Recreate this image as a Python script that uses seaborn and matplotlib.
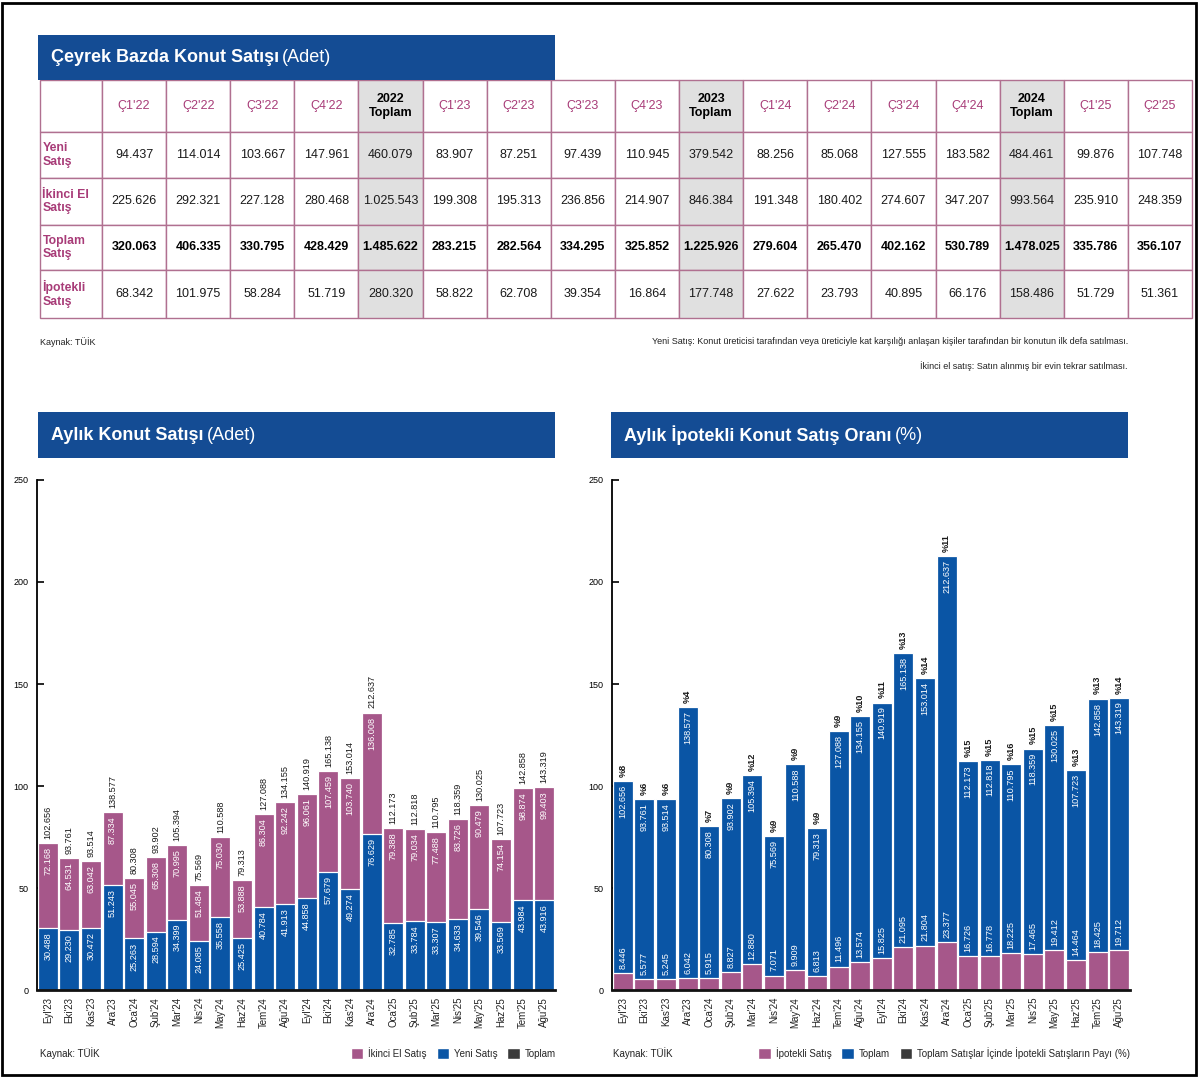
import matplotlib
matplotlib.use("Agg")
import matplotlib.pyplot as plt
import seaborn as sns
import numpy as np
import pandas as pd
from matplotlib.patches import Rectangle, Patch

# ---------------- data ----------------
quarter_labels = ["Ç1'22", "Ç2'22", "Ç3'22", "Ç4'22", "2022\nToplam",
                  "Ç1'23", "Ç2'23", "Ç3'23", "Ç4'23", "2023\nToplam",
                  "Ç1'24", "Ç2'24", "Ç3'24", "Ç4'24", "2024\nToplam",
                  "Ç1'25", "Ç2'25"]
row_labels = ["Yeni\nSatış", "İkinci El\nSatış", "Toplam\nSatış", "İpotekli\nSatış"]
yeni_q = [94437, 114014, 103667, 147961, 460079, 83907, 87251, 97439, 110945, 379542,
          88256, 85068, 127555, 183582, 484461, 99876, 107748]
ikinci_q = [225626, 292321, 227128, 280468, 1025543, 199308, 195313, 236856, 214907, 846384,
            191348, 180402, 274607, 347207, 993564, 235910, 248359]
toplam_q = [320063, 406335, 330795, 428429, 1485622, 283215, 282564, 334295, 325852, 1225926,
            279604, 265470, 402162, 530789, 1478025, 335786, 356107]
ipotekli_q = [68342, 101975, 58284, 51719, 280320, 58822, 62708, 39354, 16864, 177748,
              27622, 23793, 40895, 66176, 158486, 51729, 51361]

months = ["Eyl'23", "Eki'23", "Kas'23", "Ara'23", "Oca'24", "Şub'24", "Mar'24", "Nis'24",
          "May'24", "Haz'24", "Tem'24", "Ağu'24", "Eyl'24", "Eki'24", "Kas'24", "Ara'24",
          "Oca'25", "Şub'25", "Mar'25", "Nis'25", "May'25", "Haz'25", "Tem'25", "Ağu'25"]
yeni_m = [30488, 29230, 30472, 51243, 25263, 28594, 34399, 24085, 35558, 25425, 40784, 41913,
          44858, 57679, 49274, 76629, 32785, 33784, 33307, 34633, 39546, 33569, 43984, 43916]
ikinci_m = [72168, 64531, 63042, 87334, 55045, 65308, 70995, 51484, 75030, 53888, 86304, 92242,
            96061, 107459, 103740, 136008, 79388, 79034, 77488, 83726, 90479, 74154, 98874, 99403]
toplam_m = [102656, 93761, 93514, 138577, 80308, 93902, 105394, 75569, 110588, 79313, 127088, 134155,
            140919, 165138, 153014, 212637, 112173, 112818, 110795, 118359, 130025, 107723, 142858, 143319]
ipotekli_m = [8446, 5577, 5245, 6042, 5915, 8827, 12880, 7071, 9909, 6813, 11496, 13574,
              15825, 21095, 21804, 23377, 16726, 16778, 18225, 17465, 19412, 14464, 18425, 19712]
pay_m = [8, 6, 6, 4, 7, 9, 12, 9, 9, 9, 9, 10, 11, 13, 14, 11, 15, 15, 16, 15, 15, 13, 13, 14]

# ---------------- style ----------------
sns.set_theme(style="white")
plt.rcParams['font.family'] = ['Liberation Sans', 'DejaVu Sans']

PINK = "#a6578a"
BLUE = "#0a55a5"
DARK = "#3a3a3a"
BANNER = "#144c94"
LINE = "#b07090"
ROWPINK = "#a83c78"
GRAY = "#e0e0e0"

W, H = 1200, 1077
fig = plt.figure(figsize=(W / 100, H / 100), dpi=100)
fig.patch.set_facecolor("white")


def fmt(v):
    return f"{v:,}".replace(",", ".")


def fx(px):
    return px / W


def fy(py):
    return 1 - py / H


renderer = fig.canvas.get_renderer()


def banner(x0, y0, x1, y1, bold, regular):
    fig.add_artist(Rectangle((fx(x0), fy(y1)), (x1 - x0) / W, (y1 - y0) / H,
                             transform=fig.transFigure, facecolor=BANNER, edgecolor="none"))
    t = fig.text(fx(x0 + 13), fy((y0 + y1) / 2), bold, color="white", fontsize=13,
                 fontweight="bold", va="center", ha="left")
    bb = t.get_window_extent(renderer)
    fig.text(bb.x1 / W + 3 / W, fy((y0 + y1) / 2), regular, color="white", fontsize=13,
             va="center", ha="left")


# outer frame
fig.add_artist(Rectangle((0.002, 0.002), 0.995, 0.995, transform=fig.transFigure,
                         fill=False, edgecolor="black", linewidth=2))

# ---------------- table ----------------
banner(38, 35, 555, 80, "Çeyrek Bazda Konut Satışı", "(Adet)")

tab_ax = fig.add_axes([fx(40), fy(318), 1152 / W, 238 / H])
tab_ax.axis("off")
n_cols = len(quarter_labels)
cell_text = [[""] + quarter_labels]
for lab, vals in zip(row_labels, [yeni_q, ikinci_q, toplam_q, ipotekli_q]):
    cell_text.append([lab] + [fmt(v) for v in vals])
col_widths = [62 / 1152] + [1090 / 1152 / n_cols] * n_cols
tbl = tab_ax.table(cellText=cell_text, colWidths=col_widths, bbox=[0, 0, 1, 1], cellLoc="center")
tbl.auto_set_font_size(False)
row_h = [52, 46, 47, 45, 48]
total_cols = {i + 1 for i, q in enumerate(quarter_labels) if "Toplam" in q}
for (r, c), cell in tbl.get_celld().items():
    cell.set_height(row_h[r] / 238)
    cell.set_edgecolor(LINE)
    cell.set_linewidth(1.0)
    txt = cell.get_text()
    txt.set_fontsize(9)
    txt.set_color("#1a1a1a")
    if c in total_cols:
        cell.set_facecolor(GRAY)
    if r == 0 and c > 0:
        if c in total_cols:
            txt.set_fontweight("bold")
            txt.set_color("black")
        else:
            txt.set_color(ROWPINK)
    if c == 0 and r > 0:
        cell._loc = "left"
        cell.PAD = 0.04
        txt.set_color(ROWPINK)
        txt.set_fontweight("bold")
        txt.set_fontsize(8.8)
        txt.set_horizontalalignment("left")
    if r == 3 and c > 0:
        txt.set_fontweight("bold")
        txt.set_color("black")

fig.text(fx(40), fy(342), "Kaynak: TÜİK", fontsize=6.5, va="center", color="#222")
fig.text(fx(1128), fy(342),
         "Yeni Satış: Konut üreticisi tarafından veya üreticiyle kat karşılığı anlaşan kişiler tarafından bir konutun ilk defa satılması.",
         fontsize=6.5, va="center", ha="right", color="#222")
fig.text(fx(1128), fy(366), "İkinci el satış: Satın alınmış bir evin tekrar satılması.",
         fontsize=6.5, va="center", ha="right", color="#222")

# ---------------- charts ----------------
banner(38, 412, 555, 458, "Aylık Konut Satışı", "(Adet)")
banner(611, 412, 1128, 458, "Aylık İpotekli Konut Satış Oranı", "(%)")

df = pd.DataFrame({"ay": months, "yeni": np.array(yeni_m) / 1000, "ikinci": np.array(ikinci_m) / 1000,
                   "toplam": np.array(toplam_m) / 1000, "ipotekli": np.array(ipotekli_m) / 1000})

axL = fig.add_axes([fx(37), fy(990), (555 - 37) / W, (990 - 480) / H])
axR = fig.add_axes([fx(612), fy(990), (1130 - 612) / W, (990 - 480) / H])

BW = 0.93
sns.barplot(data=df, x="ay", y="ikinci", color=PINK, saturation=1, width=BW,
            edgecolor="white", linewidth=0.9, ax=axL)
sns.barplot(data=df, x="ay", y="yeni", color=BLUE, saturation=1, width=BW,
            edgecolor="white", linewidth=0.9, ax=axL)

sns.barplot(data=df, x="ay", y="toplam", color=BLUE, saturation=1, width=BW,
            edgecolor="white", linewidth=0.9, ax=axR)
sns.barplot(data=df, x="ay", y="ipotekli", color=PINK, saturation=1, width=BW,
            edgecolor="white", linewidth=0.9, ax=axR)

LBL = 6.6
for i in range(len(months)):
    ik, ye, to, ip = df.ikinci[i], df.yeni[i], df.toplam[i], df.ipotekli[i]
    # left chart
    axL.text(i, ik + 2, fmt(toplam_m[i]), rotation=90, ha="center", va="bottom",
             fontsize=LBL, color="#1a1a1a")
    axL.text(i, ik - 2, fmt(ikinci_m[i]), rotation=90, ha="center", va="top",
             fontsize=LBL, color="white")
    axL.text(i, ye - 2, fmt(yeni_m[i]), rotation=90, ha="center", va="top",
             fontsize=LBL, color="white")
    # right chart
    axR.text(i, to + 2, f"%{pay_m[i]}", rotation=90, ha="center", va="bottom",
             fontsize=LBL, color="#1a1a1a", fontweight="bold")
    axR.text(i, to - 2, fmt(toplam_m[i]), rotation=90, ha="center", va="top",
             fontsize=LBL, color="white")
    axR.text(i, ip + 2, fmt(ipotekli_m[i]), rotation=90, ha="center", va="bottom",
             fontsize=LBL, color="white")

for ax in (axL, axR):
    ax.set_xlim(-0.5, len(months) - 0.5)
    ax.set_ylim(0, 250)
    ax.set_yticks([0, 50, 100, 150, 200, 250])
    ax.set_xlabel("")
    ax.set_ylabel("")
    ax.set_facecolor("none")
    for s in ("top", "right"):
        ax.spines[s].set_visible(False)
    ax.spines["left"].set_color("black")
    ax.spines["left"].set_linewidth(1.3)
    ax.spines["bottom"].set_color("#111")
    ax.spines["bottom"].set_linewidth(2)
    ax.tick_params(axis="y", direction="in", length=5, width=1.2, labelsize=6.5, pad=6,
                   left=True, colors="black")
    ax.tick_params(axis="x", length=0, labelsize=7, pad=5, labelrotation=90, colors="#222")

# legends / sources
fig.text(fx(40), fy(1053), "Kaynak: TÜİK", fontsize=7, va="center", color="#222")
fig.text(fx(613), fy(1053), "Kaynak: TÜİK", fontsize=7, va="center", color="#222")

hL = [Patch(facecolor=PINK), Patch(facecolor=BLUE), Patch(facecolor=DARK)]
fig.legend(hL, ["İkinci El Satış", "Yeni Satış", "Toplam"], loc="center right",
           bbox_to_anchor=(fx(556), fy(1053)), ncol=3, frameon=False, fontsize=7,
           handlelength=1.3, handleheight=1.3, handletextpad=0.5, columnspacing=1.0,
           borderpad=0, borderaxespad=0)
hR = [Patch(facecolor=PINK), Patch(facecolor=BLUE), Patch(facecolor=DARK)]
fig.legend(hR, ["İpotekli Satış", "Toplam", "Toplam Satışlar İçinde İpotekli Satışların Payı (%)"],
           loc="center right", bbox_to_anchor=(fx(1130), fy(1053)), ncol=3, frameon=False,
           fontsize=7, handlelength=1.3, handleheight=1.3, handletextpad=0.5, columnspacing=1.0,
           borderpad=0, borderaxespad=0)

fig.savefig("out.png", dpi=100, facecolor="white")
